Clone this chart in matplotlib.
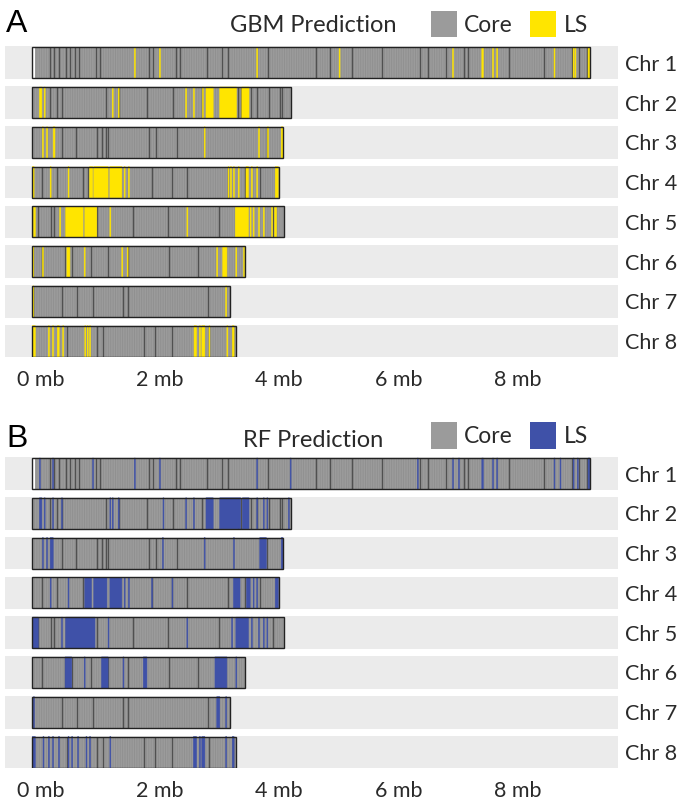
import matplotlib
matplotlib.use("Agg")
import matplotlib.pyplot as plt
from matplotlib.patches import Rectangle
from matplotlib.transforms import ScaledTranslation

# ---------------- data ----------------
chroms = ["Chr 1", "Chr 2", "Chr 3", "Chr 4", "Chr 5", "Chr 6", "Chr 7", "Chr 8"]
chrom_len_mb = [9.35, 4.33, 4.20, 4.13, 4.21, 3.57, 3.32, 3.41]

# dark boundary lines inside each chromosome (mb)
dark_lines_mb = [
    [0.29, 0.37, 0.45, 0.57, 0.63, 0.72, 0.78, 1.06, 1.13, 1.96, 2.03, 2.40, 2.47,
     2.93, 3.17, 3.28, 3.95, 4.75, 4.99, 5.35, 5.85, 6.49, 6.63, 6.93, 7.23, 7.30,
     7.99, 8.57, 9.04, 9.15, 9.29],
    [0.29, 0.41, 0.49, 1.23, 1.45, 1.92, 2.36, 2.85, 3.45, 3.49, 3.66, 3.76, 3.97, 4.15, 4.18],
    [0.49, 0.73, 1.09, 1.16, 1.23, 1.27, 1.96, 2.08, 2.43, 3.93],
    [0.17, 0.41, 0.85, 0.94, 2.00, 2.34, 2.59, 3.28, 3.56, 3.81],
    [0.10, 0.31, 0.37, 0.57, 1.08, 1.69, 2.28, 3.12, 4.04],
    [0.17, 0.55, 0.66, 0.99, 1.26, 1.61, 2.29, 2.77],
    [0.01, 0.49, 0.75, 1.01, 1.52, 1.60, 2.95],
    [0.58, 1.09, 1.19, 1.87, 2.06, 2.34, 2.96, 3.37],
]

# empty (white) stretches
gaps_mb = [[(0.0, 0.05)], [], [], [], [], [], [], []]

# lineage-specific (LS) predictions, intervals in mb
gbm_ls_mb = [
    [(1.71, 1.725), (2.13, 2.145), (3.76, 3.775), (5.14, 5.155), (7.04, 7.055), (7.53, 7.555),
     (7.71, 7.725), (7.78, 7.795), (8.74, 8.755), (9.06, 9.075), (9.09, 9.105), (9.31, 9.34)],
    [(0.12, 0.16), (0.20, 0.215), (1.34, 1.355), (1.44, 1.455), (2.57, 2.585), (2.70, 2.715),
     (2.85, 2.865), (2.91, 3.03), (3.14, 3.42), (3.51, 3.63)],
    [(0.17, 0.185), (0.24, 0.255), (0.35, 0.38), (2.88, 2.895), (3.79, 3.805), (3.94, 3.955),
     (4.17, 4.20)],
    [(0.00, 0.03), (0.30, 0.315), (0.60, 0.615), (0.96, 1.01), (1.03, 1.27), (1.30, 1.50),
     (1.54, 1.555), (1.61, 1.625), (3.28, 3.295), (3.32, 3.335), (3.37, 3.385), (3.45, 3.465),
     (3.58, 3.62), (3.67, 3.685), (3.76, 3.775), (4.07, 4.12)],
    [(0.02, 0.05), (0.46, 0.475), (0.56, 0.85), (0.88, 1.08), (1.30, 1.315), (2.59, 2.605),
     (3.40, 3.62), (3.65, 3.665), (3.70, 3.715), (3.79, 3.805), (3.87, 3.885), (4.01, 4.025),
     (4.06, 4.09)],
    [(0.01, 0.025), (0.17, 0.185), (0.58, 0.63), (0.87, 0.885), (1.50, 1.515), (1.59, 1.605),
     (3.09, 3.105), (3.19, 3.26), (3.41, 3.425), (3.54, 3.555)],
    [(0.01, 0.025), (3.24, 3.255)],
    [(0.00, 0.05), (0.27, 0.285), (0.34, 0.355), (0.42, 0.45), (0.51, 0.525), (0.88, 0.895),
     (0.92, 0.935), (0.96, 0.975), (2.71, 2.75), (2.80, 2.815), (2.84, 2.89), (2.96, 2.975),
     (3.26, 3.275), (3.35, 3.38)],
]

rf_ls_mb = [
    [(0.12, 0.135), (0.34, 0.355), (1.01, 1.025), (1.71, 1.725), (2.13, 2.145), (3.76, 3.775),
     (4.32, 4.335), (6.45, 6.465), (7.04, 7.055), (7.14, 7.155), (7.53, 7.555), (7.71, 7.725),
     (7.78, 7.795), (8.74, 8.755), (8.84, 8.855), (9.06, 9.075), (9.13, 9.145), (9.31, 9.34)],
    [(0.12, 0.16), (0.20, 0.215), (0.34, 0.355), (0.49, 0.505), (1.30, 1.315), (1.34, 1.355),
     (1.44, 1.455), (2.19, 2.205), (2.57, 2.585), (2.70, 2.715), (2.91, 3.03), (3.14, 3.49),
     (3.52, 3.63), (3.76, 3.775), (3.87, 3.885), (3.93, 3.945), (4.29, 4.305)],
    [(0.17, 0.185), (0.24, 0.255), (0.30, 0.35), (2.18, 2.195), (2.88, 2.895), (3.37, 3.385),
     (3.81, 3.92), (4.17, 4.20)],
    [(0.30, 0.315), (0.60, 0.615), (0.88, 0.99), (1.03, 1.25), (1.30, 1.50), (1.54, 1.555),
     (1.61, 1.625), (2.00, 2.015), (2.34, 2.355), (3.37, 3.48), (3.59, 3.65), (3.70, 3.715),
     (3.76, 3.775), (4.07, 4.12)],
    [(0.00, 0.10), (0.49, 0.505), (0.56, 1.05), (1.27, 1.285), (2.59, 2.605), (3.34, 3.355),
     (3.41, 3.62), (3.67, 3.685), (3.79, 3.805), (3.87, 3.885), (3.93, 3.945)],
    [(0.55, 0.66), (0.87, 0.885), (1.16, 1.27), (1.52, 1.535), (1.86, 1.92), (3.06, 3.26),
     (3.41, 3.425)],
    [(0.02, 0.035), (3.09, 3.14), (3.24, 3.255)],
    [(0.00, 0.05), (0.18, 0.195), (0.27, 0.285), (0.34, 0.355), (0.44, 0.455), (0.60, 0.615),
     (0.66, 0.675), (0.76, 0.775), (0.90, 0.915), (0.96, 0.975), (1.30, 1.315), (2.70, 2.75),
     (2.80, 2.815), (2.84, 2.89), (3.24, 3.255), (3.35, 3.38)],
]

x_ticks_mb = [0, 2, 4, 6, 8]
x_tick_labels = ["0 mb", "2 mb", "4 mb", "6 mb", "8 mb"]

panels = [
    {"letter": "A", "title": "GBM Prediction", "ls": gbm_ls_mb, "color": "#FFE500"},
    {"letter": "B", "title": "RF Prediction", "ls": rf_ls_mb, "color": "#3F51A8"},
]

# ---------------- style ----------------
W, H = 691, 805
FONT = ["Lato", "DejaVu Sans"]
plt.rcParams["font.family"] = FONT
plt.rcParams["hatch.linewidth"] = 0.6
TXT = "#2a2a2a"
CORE = "#9b9b9b"
BAND = "#ebebeb"

fig = plt.figure(figsize=(W / 100, H / 100), dpi=100)


def rect_px(left, top, right, bottom):
    return [left / W, 1 - bottom / H, (right - left) / W, (bottom - top) / H]


ax_tops = [46.5, 457.3]
ax_h = 311.0
XMIN, XMAX = -0.457, 9.811
BAND_H = 0.818
BAR_H = 0.78

legend_y = [(11.0, 37.3), (422.3, 448.7)]
title_base = [31.7, 446.7]
legend_base = [31.7, 443.0]

for p, panel in enumerate(panels):
    top = ax_tops[p]
    ax = fig.add_axes(rect_px(5, top, 618, top + ax_h))
    ax.set_xlim(XMIN, XMAX)
    ax.set_ylim(7 + BAND_H / 2, -BAND_H / 2)
    for s in ax.spines.values():
        s.set_visible(False)

    for i, name in enumerate(chroms):
        L = chrom_len_mb[i]
        ax.barh(i, XMAX - XMIN, left=XMIN, height=BAND_H, color=BAND, lw=0, zorder=0)
        ax.barh(i, L, left=0, height=BAR_H, facecolor=CORE, edgecolor="#8f8f8f", lw=0,
                hatch="|" * 7, zorder=1)
        ax.vlines(dark_lines_mb[i], i - BAR_H / 2, i + BAR_H / 2, color="#505050",
                  lw=1.0, zorder=2)
        for (s0, s1) in panel["ls"][i]:
            ax.barh(i, s1 - s0, left=s0, height=BAR_H, facecolor=panel["color"],
                    edgecolor=panel["color"], lw=0.4, snap=False, zorder=3)
        for (g0, g1) in gaps_mb[i]:
            ax.barh(i, g1 - g0, left=g0, height=BAR_H, color="white", lw=0, zorder=3)
        ax.barh(i, L, left=0, height=BAR_H, fill=False, edgecolor="#222222", lw=1.0,
                zorder=4)

    ax.set_yticks(range(len(chroms)))
    ax.set_yticklabels(chroms)
    ax.yaxis.tick_right()
    ax.tick_params(axis="y", length=0, pad=5, labelsize=15.5, labelcolor=TXT)
    ax.set_xticks(x_ticks_mb)
    ax.set_xticklabels(x_tick_labels)
    ax.tick_params(axis="x", length=0, pad=9, labelsize=15.5, labelcolor=TXT)
    off = ScaledTranslation(0.08, 0, fig.dpi_scale_trans)
    for lab in ax.get_xticklabels():
        lab.set_transform(lab.get_transform() + off)

    # panel letter, title, legend
    fig.text(6 / W, 1 - title_base[p] / H, panel["letter"], fontsize=23,
             family=["Liberation Sans", "DejaVu Sans"], color="black",
             ha="left", va="baseline")
    fig.text(313.5 / W, 1 - title_base[p] / H, panel["title"], fontsize=17,
             color=TXT, ha="center", va="baseline")
    y0, y1 = legend_y[p]
    for (x0, col, lab, tx) in [(430.5, CORE, "Core", 463.5), (529.5, panel["color"], "LS", 563.5)]:
        fig.add_artist(Rectangle((x0 / W, 1 - y1 / H), 26.5 / W, (y1 - y0) / H,
                                 transform=fig.transFigure, facecolor=col, lw=0))
        fig.text(tx / W, 1 - legend_base[p] / H, lab, fontsize=16.5, color=TXT,
                 ha="left", va="baseline")

fig.savefig("out.png", dpi=100)
